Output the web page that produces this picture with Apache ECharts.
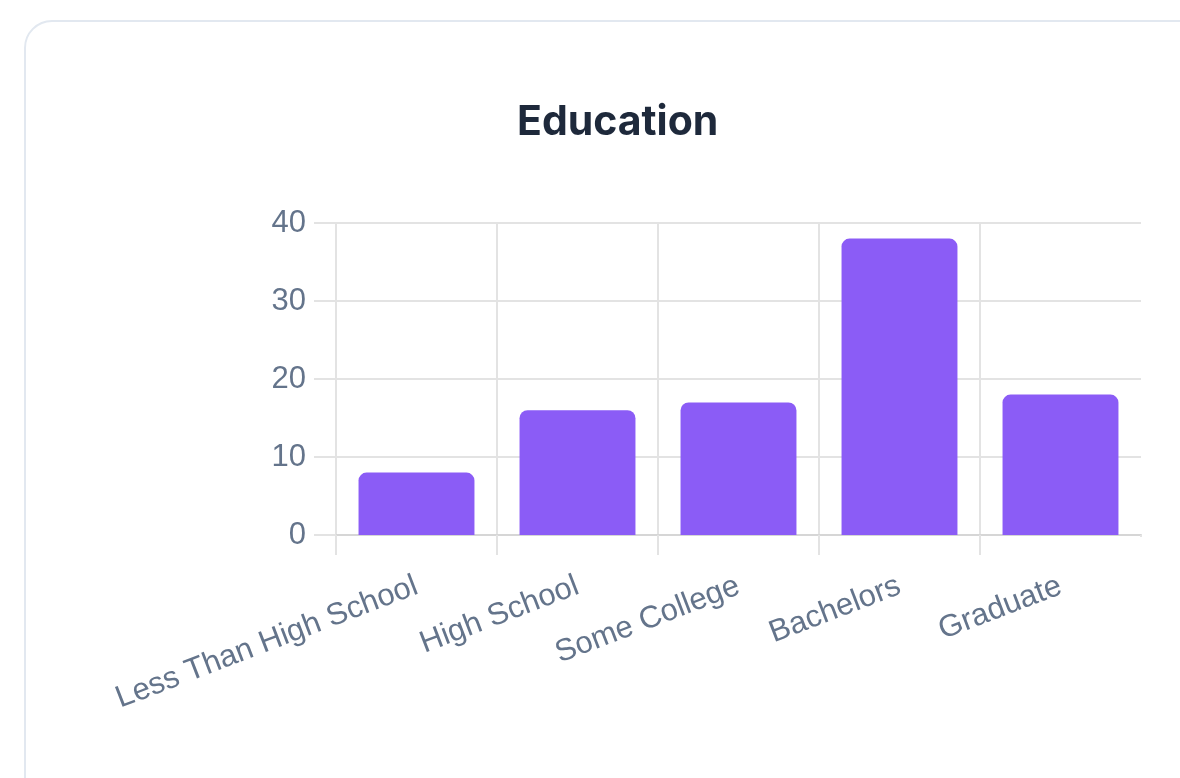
<!DOCTYPE html>
<html>
<head>
<meta charset="utf-8">
<script src="https://cdn.jsdelivr.net/npm/echarts@6/dist/echarts.min.js"></script>
<style>
    html, body { margin: 0; padding: 0; background: #ffffff; }
    #card {
        position: absolute;
        left: 24px;
        top: 20px;
        width: 1220px;
        height: 790px;
        border: 2px solid #e2e8f0;
        border-radius: 28px;
        box-sizing: border-box;
        background: #ffffff;
    }
    #chart-container {
        position: absolute;
        left: 0;
        top: 0;
        width: 1180px;
        height: 778px;
    }
</style>
</head>
<body>
<div id="card"></div>
<div id="chart-container"></div>
<script>
// data
let categories = ["Less Than High School", "High School", "Some College", "Bachelors", "Graduate"];
let counts = [8, 16, 17, 38, 18];
let yTicks = [0, 10, 20, 30, 40];

let dom = document.getElementById("chart-container");
let myChart = echarts.init(dom, null, {
    renderer: "canvas",
    useDirtyRect: false,
});

let gridColor = "#e3e3e3";
let labelColor = "#64748b";

let option = {
    animation: false,
    title: {
        text: "Education",
        left: 512,
        top: 97,
        textStyle: {
            fontFamily: "Inter",
            fontSize: 41,
            fontWeight: "bold",
            color: "#1e293b",
        },
    },
    grid: {
        left: 336,
        right: 39,
        top: 223,
        bottom: 243,
        containLabel: false,
    },
    // the reference has no tick under the last category boundary
    graphic: [{
        type: "rect",
        left: 1138,
        top: 537,
        z: 100,
        shape: { width: 6, height: 22 },
        style: { fill: "#ffffff" },
    }, ],
    xAxis: {
        type: "category",
        data: categories,
        axisLine: {
            lineStyle: { color: "#d6d6d6", width: 2 },
        },
        axisTick: {
            show: true,
            length: 20,
            lineStyle: { color: gridColor, width: 2 },
        },
        splitLine: {
            show: true,
            showMaxLine: false,
            lineStyle: { color: gridColor, width: 2 },
        },
        axisLabel: {
            interval: 0,
            rotate: 21,
            margin: 50,
            fontFamily: "Liberation Sans",
            fontSize: 31,
            color: labelColor,
        },
    },
    yAxis: {
        type: "value",
        min: yTicks[0],
        max: yTicks[yTicks.length - 1],
        interval: 10,
        axisLine: {
            show: true,
            lineStyle: { color: gridColor, width: 2 },
        },
        axisTick: {
            show: true,
            length: 22,
            lineStyle: { color: gridColor, width: 2 },
        },
        splitLine: {
            show: true,
            lineStyle: { color: gridColor, width: 2 },
        },
        axisLabel: {
            margin: 30,
            fontFamily: "Liberation Sans",
            fontSize: 31,
            color: labelColor,
        },
    },
    series: [{
        name: "Education",
        type: "bar",
        data: counts,
        barCategoryGap: "28%",
        itemStyle: {
            color: "#8b5cf6",
            borderRadius: [8, 8, 0, 0],
        },
    }, ],
};

if (option && typeof option === "object") {
    myChart.setOption(option);
}

window.addEventListener("resize", myChart.resize);
</script>
</body>
</html>
